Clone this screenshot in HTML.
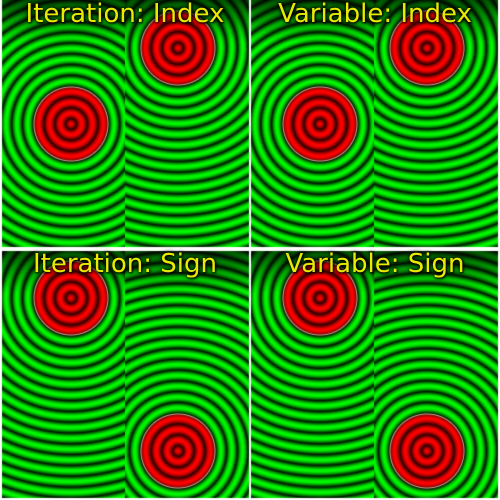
<!DOCTYPE html>
<html><head><meta charset="utf-8"><style>
html,body{margin:0;padding:0;background:#fff;width:500px;height:500px;overflow:hidden}
#wrap{position:relative;width:500px;height:500px}
canvas{position:absolute;left:0;top:0}
.title{position:absolute;width:246px;text-align:center;font-family:"DejaVu Sans","Liberation Sans",sans-serif;font-size:26px;color:#eaea00;line-height:26px;text-shadow:0 0 3px #000,0 0 6px #000,1px 1px 2px #000}
</style></head><body>
<div id="wrap">
<canvas id="c" width="500" height="500"></canvas>
<div class="title" style="left:2px;top:1px">Iteration: Index</div>
<div class="title" style="left:252px;top:1px">Variable: Index</div>
<div class="title" style="left:2px;top:251px">Iteration: Sign</div>
<div class="title" style="left:252px;top:251px">Variable: Sign</div>
</div>
<script>
const panelX=[2,251,2,251];
const panelY=[0,0,251,251];
const leftCY=[124,124,47,47];
const rightCY=[48,48,200,200];
const leftCX=69, rightCX=176, splitX=123, R=37, P=10.8, PW=247, PH=247;
const c=document.getElementById('c'),ctx=c.getContext('2d');
const img=ctx.createImageData(500,500),d=img.data;
for(let i=0;i<d.length;i++)d[i]=255;
for(let p=0;p<4;p++){
  const ox=panelX[p],oy=panelY[p];
  for(let y=0;y<PH;y++)for(let x=0;x<PW;x++){
    const gx=ox+x,gy=oy+y;if(gx>=500||gy>=500)continue;
    const left=x<splitX;
    const cx=left?leftCX:rightCX,cy=left?leftCY[p]:rightCY[p];
    const r=Math.hypot(x+0.5-cx,y+0.5-cy);
    let t=0.5+0.5*Math.cos(2*Math.PI*r/P);
    t=Math.pow(t,0.6);
    const fade=Math.min(1,0.35+0.65*y/42);
    // inside color
    const inR=50+205*t,inG=0,inB=0;
    const outR=0,outG=(25+225*t)*fade,outB=0;
    const eR=200,eG=170,eB=150;
    let cr,cg,cb;
    const dd=r-R;
    if(dd<-1){cr=inR;cg=inG;cb=inB;}
    else if(dd>1){cr=outR;cg=outG;cb=outB;}
    else{
      const w=1-Math.abs(dd); // edge weight
      if(dd<0){cr=inR*(1-w)+eR*w;cg=inG*(1-w)+eG*w;cb=inB*(1-w)+eB*w;}
      else{cr=outR*(1-w)+eR*w;cg=outG*(1-w)+eG*w;cb=outB*(1-w)+eB*w;}
    }
    const i=(gy*500+gx)*4;d[i]=cr;d[i+1]=cg;d[i+2]=cb;
  }
}
ctx.putImageData(img,0,0);
</script>
</body></html>
